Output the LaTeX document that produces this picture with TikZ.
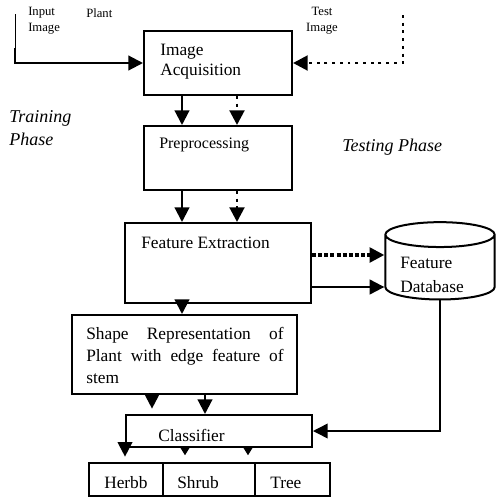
\documentclass[tikz,border=0pt]{standalone}
\usepackage{fontspec}
\setmainfont{Liberation Serif}
\usetikzlibrary{arrows.meta,shapes.geometric,fit}

\begin{document}
\begin{tikzpicture}[x=0.75pt, y=-0.75pt,
    box/.style={draw, line width=1.5pt, inner sep=0pt},
    txt/.style={anchor=west, inner sep=0pt, align=left, font=\fontsize{13}{15}\selectfont},
    small/.style={inner sep=0pt, font=\fontsize{9.5}{12}\selectfont},
    flow/.style={line width=1.6pt, -{Triangle[length=11pt, width=11pt]}},
    dotflow/.style={flow, line width=2.2pt, dash pattern=on 2.2pt off 3.6pt},
    tip/.style={line width=1.5pt, -{Triangle[length=6.5pt, width=7.5pt]}}]
  \useasboundingbox (0,0) rectangle (496,497);

  % boxes
  \node[box, fit={(144,31) (292,95)}] (acq) {};
  \node[box, fit={(144,126) (292,190)}] (pre) {};
  \node[box, fit={(125,223) (311,303)}] (fe) {};
  \node[box, fit={(72,315) (297,394)}] (shp) {};
  \node[box, fit={(126,415) (312,447)}] (cls) {};
  \node[box, fit={(89,463) (163,495.5)}] (herbb) {};
  \node[box, fit={(163,463) (255,495.5)}] (shrub) {};
  \node[box, fit={(255,463) (330,495.5)}] (tree) {};
  \node[draw, line width=1.5pt, cylinder, shape border rotate=90, aspect=2.8,
        minimum width=82pt, minimum height=58pt] (db) at (440,270) {};

  % texts
  \node[small, anchor=west, align=left] (inLbl) at (28,21) {Input\\Image};
  \node[small, anchor=west] (plantLbl) at (86,13) {Plant};
  \node[small, align=center] (testLbl) at (322,21) {Test\\Image};
  \node[txt] (acqLbl) at (160,62) {Image\\Acquisition};
  \node[txt, font=\fontsize{13.5}{17}\selectfont\itshape] (trainLbl) at (9,128) {Training\\Phase};
  \node[txt, font=\fontsize{13.5}{17}\selectfont\itshape] (testPh) at (342,147) {Testing Phase};
  \node[txt, font=\fontsize{12}{14}\selectfont] (preLbl) at (159,145) {Preprocessing};
  \node[txt] (feLbl) at (141,243) {Feature Extraction};
  \node[txt, font=\fontsize{13}{18}\selectfont] (dbLbl) at (400,275) {Feature\\Database};
  \node[txt, text width=148pt, align=justify, font=\fontsize{13}{16.5}\selectfont] (shpLbl)
        at (86,355) {Shape Representation of Plant with edge feature of stem};
  \node[txt] (clsLbl) at (158,435) {Classifier};
  \node[txt] (herbbLbl) at (104,483) {Herbb};
  \node[txt] (shrubLbl) at (177,483) {Shrub};
  \node[txt] (treeLbl) at (270,483) {Tree};

  % columns and rows for the connectors
  \coordinate (colA) at (182,0);
  \coordinate (colB) at (237,0);
  \coordinate (colC) at (152,0);
  \coordinate (colD) at (205,0);
  \coordinate (colF) at (185,0);
  \coordinate (colG) at (248,0);
  \coordinate (rowD) at (0,255);
  \coordinate (rowS) at (0,287);
  \coordinate (inTop) at (15,14);
  \coordinate (inBend) at (15,48);
  \coordinate (testTop) at (403,15);

  % connectors
  \draw[line width=0.6pt] (inTop) -- (inBend);
  \draw[flow] (inBend) |- (acq.west);
  \draw[dotflow] (testTop) |- (acq.east);
  \draw[flow] (acq.south -| colA) -- (pre.north -| colA);
  \draw[dotflow] (acq.south -| colB) -- (pre.north -| colB);
  \draw[flow] (pre.south -| colA) -- (fe.north -| colA);
  \draw[dotflow] (pre.south -| colB) -- (fe.north -| colB);
  \draw[flow] (fe.south -| colA) -- (shp.north -| colA);
  \draw[flow, line width=2.4pt, dash pattern=on 3pt off 1.6pt] (fe.east |- rowD) -- (db.west |- rowD);
  \draw[flow] (fe.east |- rowS) -- (db.west |- rowS);
  \draw[flow, line width=1.1pt] (db.south) |- (cls.east);
  \draw[flow, shorten >=4pt] (shp.south -| colC) -- (cls.north -| colC);
  \draw[flow] (shp.south -| colD) -- (cls.north -| colD);
  \draw[flow, shorten >=4pt] (cls.south west) -- (herbb.north -| cls.south west);
  \draw[tip, shorten >=5pt] (cls.south -| colF) -- (shrub.north -| colF);
  \draw[tip, shorten >=5pt] (cls.south -| colG) -- (shrub.north -| colG);
\end{tikzpicture}
\end{document}
